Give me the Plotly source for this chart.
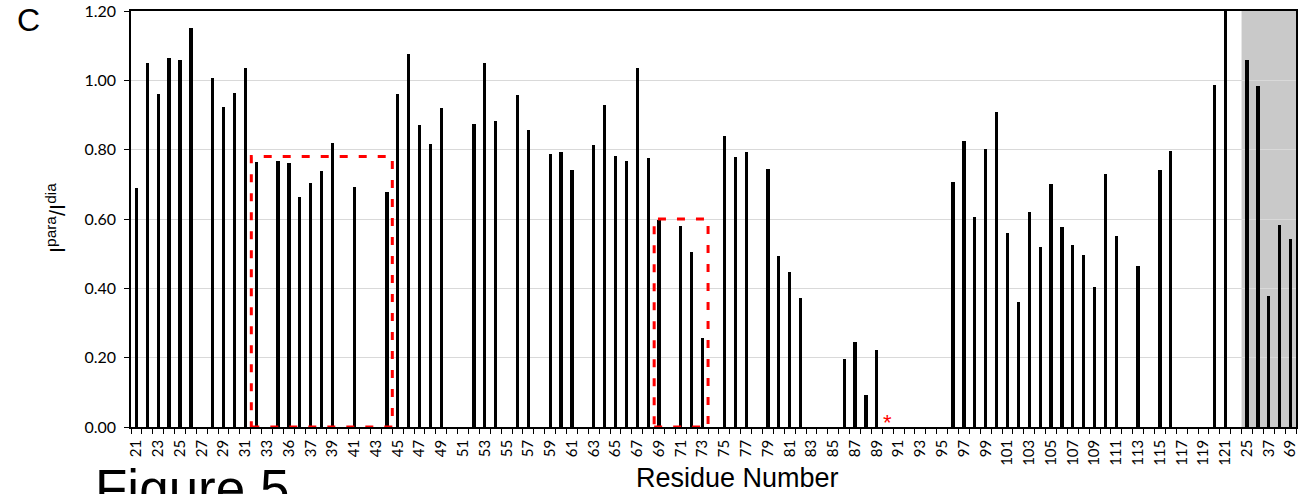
import plotly.graph_objects as go

# ---------------- data ----------------
residues = list(range(21, 123)) + ["g25", "g31", "g37", "g45", "g69"]

ratio = [
    0.689, 1.051, 0.962, 1.065, 1.059, 1.152, None, 1.008, 0.923, 0.964,   # 21-30
    1.035, 0.764, None, 0.768, 0.761, 0.663, 0.704, 0.739, 0.820, None,    # 31-40
    0.693, None, None, 0.677, 0.961, 1.075, 0.872, 0.817, 0.921, None,     # 41-50
    None, 0.875, 1.051, 0.883, None, 0.959, 0.856, None, 0.788, 0.793,     # 51-60
    0.742, None, 0.814, 0.930, 0.783, 0.766, 1.036, 0.775, 0.596, None,    # 61-70
    0.581, 0.506, 0.256, None, 0.838, 0.780, 0.793, None, 0.745, 0.494,    # 71-80
    0.446, 0.373, None, None, None, 0.197, 0.245, 0.093, 0.223, None,      # 81-90
    None, None, None, None, None, 0.708, 0.825, 0.607, 0.801, 0.910,       # 91-100
    0.559, 0.360, 0.620, 0.519, 0.702, 0.576, 0.526, 0.497, 0.403, 0.729,  # 101-110
    0.550, None, 0.464, None, 0.742, 0.795, None, None, None, 0.987,       # 111-120
    1.25, None,                                                           # 121-122
    1.058, 0.983, 0.378, 0.584, 0.543,                                    # grey block
]

# tick labels shown (every other category, as printed in the original)
tick_labels = ["21", "23", "25", "27", "29", "31", "33", "36", "37", "39",
               "41", "43", "45", "47", "49", "51", "53", "55", "57", "59",
               "61", "63", "65", "67", "69", "71", "73", "75", "77", "79",
               "81", "83", "85", "87", "89", "91", "93", "95", "97", "99",
               "101", "103", "105", "107", "109", "111", "113", "115", "117",
               "119", "121", "25", "37", "69"]

grey_block = ["g25", "g31", "g37", "g45", "g69"]
boxes_start = [32, 69]
boxes_end = [44, 73]
boxes_top = [0.78, 0.60]
asterisk_residue = 90

# ---------------- figure ----------------
idx = list(range(len(residues)))
tickvals = list(range(0, 101, 2)) + [102, 104, 106]

fig = go.Figure()
fig.add_trace(go.Bar(x=idx, y=ratio, width=0.3,
                     marker=dict(color="black", line=dict(width=0)),
                     showlegend=False, hoverinfo="skip"))

# grey background block
g0 = residues.index(grey_block[0])
g1 = residues.index(grey_block[-1])
fig.add_shape(type="rect", xref="x", yref="y", x0=g0 - 0.5, x1=g1 + 0.5,
              y0=0, y1=1.2, fillcolor="#c9c9c9", line=dict(width=0),
              layer="below")

# red dashed boxes
for s, e, t in zip(boxes_start, boxes_end, boxes_top):
    fig.add_shape(type="rect", xref="x", yref="y",
                  x0=residues.index(s) - 0.45, x1=residues.index(e) + 0.5,
                  y0=0, y1=t, line=dict(color="#ff0000", width=3, dash="8px,11px"),
                  fillcolor="rgba(0,0,0,0)", layer="above")

# asterisk
fig.add_annotation(x=residues.index(asterisk_residue), y=0, xref="x", yref="y",
                   text="*", showarrow=False, xanchor="center", yanchor="bottom",
                   yshift=-10,
                   font=dict(color="#ff0000", size=22, family="Liberation Sans"))

W, H = 1303, 494
L, R, T, B = 131, 7, 11, 67
pw, ph = W - L - R, H - T - B

def px(x):
    return (x - L) / pw

def py(y):
    return (H - B - y) / ph

fig.add_annotation(xref="paper", yref="paper", x=px(28), y=py(20), text="C",
                   xanchor="center", yanchor="middle", showarrow=False,
                   font=dict(size=32, family="Liberation Sans", color="black"))
fig.add_annotation(xref="paper", yref="paper", x=px(56), y=py(218),
                   text="I<sup>para</sup>/I<sup>dia</sup>", textangle=-90,
                   xanchor="center", yanchor="middle", showarrow=False,
                   font=dict(size=22, family="Liberation Sans", color="black"))
fig.add_annotation(xref="paper", yref="paper", x=px(737), y=py(478),
                   text="Residue Number", xanchor="center", yanchor="middle",
                   showarrow=False,
                   font=dict(size=27, family="Liberation Sans", color="black"))
fig.add_annotation(xref="paper", yref="paper", x=px(93), y=py(457),
                   text="Figure 5", showarrow=False, xanchor="left", yanchor="top",
                   font=dict(size=53, family="Liberation Sans", color="black"))

fig.update_layout(
    width=W, height=H, autosize=False,
    margin=dict(l=L, r=R, t=T, b=B, autoexpand=False),
    paper_bgcolor="white", plot_bgcolor="white",
    bargap=0,
    xaxis=dict(range=[-0.5, len(residues) - 0.5], tickmode="array",
               tickvals=tickvals, ticktext=tick_labels, tickangle=-90,
               ticks="", showgrid=False, zeroline=False, automargin=False,
               showline=True, linecolor="black", linewidth=1.5, mirror=True,
               tickfont=dict(family="Lato", size=15, color="black"),
               ticklabelstandoff=5,
               minor=dict(tickmode="array",
                          tickvals=[i - 0.5 for i in range(len(residues) + 1)],
                          ticks="outside", ticklen=5, tickwidth=1,
                          tickcolor="black", showgrid=False)),
    yaxis=dict(range=[0, 1.2], dtick=0.2, tickformat=".2f",
               showgrid=True, gridcolor="#d9d9d9", gridwidth=1, automargin=False,
               zeroline=False, showline=True, linecolor="black", linewidth=1.5,
               mirror=True, ticks="outside", ticklen=5, tickcolor="black",
               tickfont=dict(family="Lato", size=16, color="black"),
               ticklabelstandoff=5),
)

fig.write_html("out.html", config={"displayModeBar": False},
               post_script="document.body.style.margin='0';document.body.style.overflow='hidden';")
